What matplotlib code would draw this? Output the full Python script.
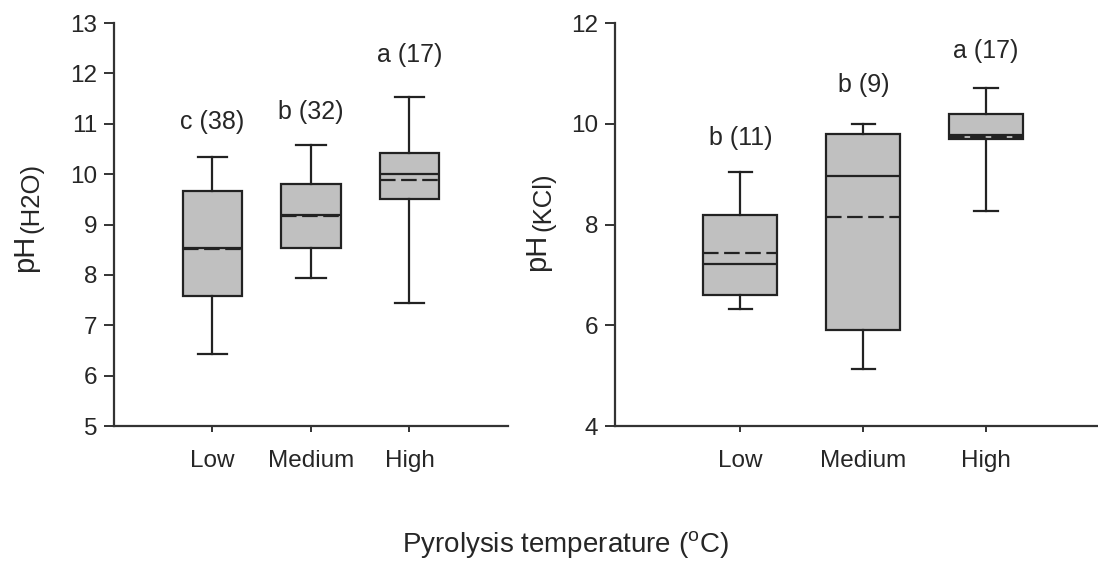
import matplotlib
matplotlib.use("Agg")
import matplotlib.pyplot as plt

plt.rcParams['font.family'] = ['Liberation Sans', 'DejaVu Sans']

# data
groups = ["Low", "Medium", "High"]

# pH (H2O)
h2o_whislo = [6.43, 7.93, 7.44]
h2o_q1 = [7.58, 8.53, 9.51]
h2o_med = [8.54, 9.19, 10.0]
h2o_mean = [8.52, 9.16, 9.88]
h2o_q3 = [9.67, 9.80, 10.42]
h2o_whishi = [10.34, 10.58, 11.53]
h2o_labels = ["c (38)", "b (32)", "a (17)"]
h2o_label_y = [11.04, 11.23, 12.37]

# pH (KCl)
kcl_whislo = [6.32, 5.13, 8.26]
kcl_q1 = [6.61, 5.90, 9.70]
kcl_med = [7.21, 8.97, 9.78]
kcl_mean = [7.43, 8.14, 9.73]
kcl_q3 = [8.18, 9.80, 10.20]
kcl_whishi = [9.05, 10.0, 10.71]
kcl_labels = ["b (11)", "b (9)", "a (17)"]
kcl_label_y = [9.72, 10.77, 11.45]

txt = '#262626'
edge = '#222222'


def make_stats(lo, q1, med, mean, q3, hi):
    stats = []
    for i in range(len(lo)):
        stats.append(dict(whislo=lo[i], q1=q1[i], med=med[i], mean=mean[i],
                          q3=q3[i], whishi=hi[i], fliers=[]))
    return stats


def draw(ax, stats, labels, label_y, capw):
    pos = [1, 2, 3]
    ax.bxp(stats, positions=pos, widths=0.6, capwidths=capw,
           showmeans=True, meanline=True, showfliers=False,
           patch_artist=True,
           boxprops=dict(facecolor='#c0c0c0', edgecolor=edge, linewidth=1.6),
           medianprops=dict(color=edge, linewidth=1.6),
           meanprops=dict(color=edge, linewidth=1.6, linestyle=(0, (7, 2.5))),
           whiskerprops=dict(color=edge, linewidth=1.6),
           capprops=dict(color=edge, linewidth=1.6))
    for x, lab, y in zip(pos, labels, label_y):
        ax.text(x, y, lab, ha='center', va='center', fontsize=18, color=txt)
    ax.set_xticks(pos)
    ax.set_xticklabels(groups)
    for s in ['top', 'right']:
        ax.spines[s].set_visible(False)
    for s in ['left', 'bottom']:
        ax.spines[s].set_linewidth(1.6)
        ax.spines[s].set_color('#333333')
    ax.tick_params(axis='y', direction='out', length=7, width=1.4,
                   color='#333333', labelsize=17.5, labelcolor=txt, pad=5)
    ax.tick_params(axis='x', direction='out', length=4, width=1.4,
                   color='#333333', labelsize=17.5, labelcolor=txt, pad=13)


fig = plt.figure(figsize=(10.98, 5.63), dpi=100)

ax1 = fig.add_axes([0.1038, 0.2433, 0.3588, 0.7158])
draw(ax1, make_stats(h2o_whislo, h2o_q1, h2o_med, h2o_mean, h2o_q3, h2o_whishi),
     h2o_labels, h2o_label_y, 0.3)
ax1.set_xlim(0, 4)
ax1.set_ylim(5, 13)
ax1.set_yticks(range(5, 14))

ax2 = fig.add_axes([0.5601, 0.2433, 0.4399, 0.7158])
draw(ax2, make_stats(kcl_whislo, kcl_q1, kcl_med, kcl_mean, kcl_q3, kcl_whishi),
     kcl_labels, kcl_label_y, 0.19)
ax2.set_xlim(-0.02, 3.91)
ax2.set_ylim(4, 12)
ax2.set_yticks(range(4, 13, 2))

# y labels: "pH" with a large subscript, drawn as two texts
fig.text(0.0228, 0.5506, 'pH', rotation=90, ha='center', va='center',
         fontsize=21, color=txt)
fig.text(0.0290, 0.6483, '(H2O)', rotation=90, ha='center', va='center',
         fontsize=18.5, color=txt)
fig.text(0.4890, 0.5524, 'pH', rotation=90, ha='center', va='center',
         fontsize=21, color=txt)
fig.text(0.4945, 0.6412, '(KCl)', rotation=90, ha='center', va='center',
         fontsize=18.5, color=txt)

fig.text(0.515, 0.032, r'Pyrolysis temperature ($^{\mathregular{o}}$C)',
         ha='center', va='center', fontsize=20, color=txt)

fig.savefig('out.png', dpi=100)
